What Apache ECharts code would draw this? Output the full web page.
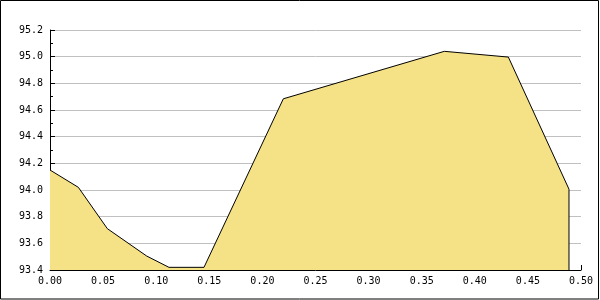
<!DOCTYPE html>
<html><head><meta charset="utf-8">
<script src="https://cdn.jsdelivr.net/npm/echarts@6/dist/echarts.min.js"></script>
<style>html,body{margin:0;padding:0;background:#fff}#c{width:600px;height:300px}</style>
</head><body><div id="c"></div>
<script>
const xValues = [0.000, 0.0267, 0.054, 0.091, 0.112, 0.145, 0.2197, 0.3713, 0.4316, 0.4887, 0.4887];
const yValues = [94.15, 94.02, 93.71, 93.505, 93.42, 93.42, 94.684, 95.04, 94.997, 94.006, 93.4];
const xTicks = ['0.00','0.05','0.10','0.15','0.20','0.25','0.30','0.35','0.40','0.45','0.50'];
const yTicks = ['93.4','93.6','93.8','94.0','94.2','94.4','94.6','94.8','95.0','95.2'];

const pts = xValues.map((x, i) => [x, yValues[i]]);
const font = {fontFamily: 'DejaVu Sans Mono', fontSize: 10, color: '#000'};
const chart = echarts.init(document.getElementById('c'), null, {renderer: 'canvas'});
chart.setOption({
  animation: false,
  backgroundColor: '#fff',
  grid: {left: 50, right: 19, top: 30, bottom: 30},
  graphic: [{type: 'rect', shape: {x: 0.5, y: 0.5, width: 598, height: 298.5}, style: {fill: 'none', stroke: '#000', lineWidth: 1}, z: 100}],
  xAxis: {
    type: 'value', min: 0, max: 0.5, interval: 0.05,
    axisLine: {lineStyle: {color: '#000', width: 1}},
    axisTick: {show: true, inside: true, length: 5, lineStyle: {color: '#000'}},
    axisLabel: Object.assign({margin: 6, formatter: v => xTicks[Math.round(v / 0.05)]}, font),
    splitLine: {show: false}
  },
  yAxis: {
    type: 'value', min: 93.4, max: 95.2, interval: 0.2,
    axisLine: {show: true, lineStyle: {color: '#000', width: 1}},
    axisTick: {show: true, inside: true, length: 5, lineStyle: {color: '#000'}},
    minorTick: {show: true, splitNumber: 2, length: 3, lineStyle: {color: '#000'}},
    axisLabel: Object.assign({margin: 7, formatter: v => yTicks[Math.round((v - 93.4) / 0.2)]}, font),
    splitLine: {show: true, lineStyle: {color: '#c0c0c0', width: 1}}
  },
  series: [{
    type: 'line', data: pts, symbol: 'none',
    lineStyle: {color: '#000', width: 1},
    areaStyle: {color: '#F6E286', opacity: 1, origin: 'start'}
  }]
});
</script></body></html>
